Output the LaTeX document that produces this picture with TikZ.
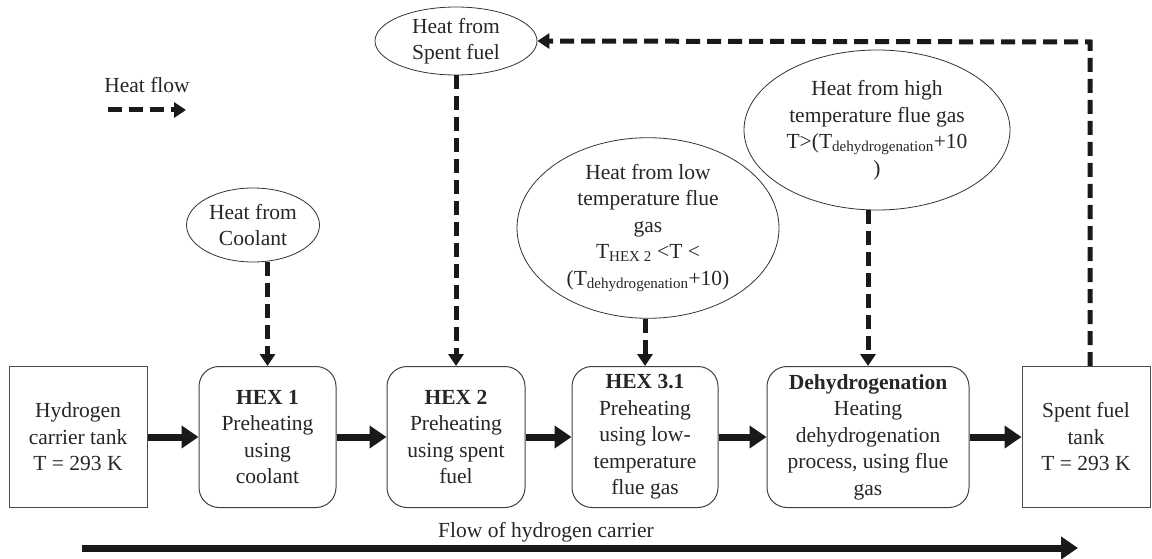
\documentclass[tikz,border=0pt]{standalone}
\usepackage{fontspec}
\setmainfont{Liberation Serif}
\usetikzlibrary{arrows.meta,shapes.geometric}
\begin{document}
\begin{tikzpicture}[x=1pt,y=-1pt,
  txt/.style={font=\fontsize{21.5}{26.5}\selectfont, align=center, text=black!85},
  sqbox/.style={txt, draw=black!70, line width=1pt, minimum width=#1, minimum height=141pt, inner sep=0pt},
  rbox/.style={txt, draw=black!75, line width=1pt, rounded corners=20pt, minimum width=#1, minimum height=141pt, inner sep=0pt},
  ell/.style={txt, ellipse, draw=black!80, line width=0.8pt, inner sep=0pt},
  flow/.style={line width=7pt, black!90, -{Triangle[length=17pt,width=22pt]}},
  heat/.style={line width=5pt, black!90, dash pattern=on 14pt off 7pt, -{Triangle[length=12pt,width=15pt]}},
]
\useasboundingbox (0,0) rectangle (1152,559);
% boxes
\node[sqbox=138pt] (tank) at (78,437) {Hydrogen\\carrier tank\\T = 293 K};
\node[rbox=137pt] (hex1) at (267.5,437) {\textbf{HEX 1}\\Preheating\\using\\coolant};
\node[rbox=138pt] (hex2) at (456,437) {\textbf{HEX 2}\\Preheating\\using spent\\fuel};
\node[rbox=146pt] (hex3) at (645,437) {\textbf{HEX 3.1}\\Preheating\\using low-\\temperature\\flue gas};
\node[rbox=202pt] (dehy) at (868,437) {\textbf{Dehydrogenation}\\Heating\\dehydrogenation\\process, using flue\\gas};
\node[sqbox=128pt] (sft) at (1086,437) {Spent fuel\\tank\\T = 293 K};
% ellipses
\node[ell, minimum width=133pt, minimum height=74pt] (ecool) at (253,225) {Heat from\\Coolant};
\node[ell, minimum width=162pt, minimum height=68pt] (espent) at (456,41) {Heat from\\Spent fuel};
\node[ell, minimum width=262pt, minimum height=160pt] (elow) at (648,228) {Heat from low\\temperature flue\\gas\\T\textsubscript{HEX 2} <T <\\(T\textsubscript{dehydrogenation}+10)};
\node[ell, minimum width=266pt, minimum height=160pt] (ehigh) at (877,130) {Heat from high\\temperature flue gas\\T>(T\textsubscript{dehydrogenation}+10\\)};
% flow arrows
\draw[flow] (tank) -- (hex1);
\draw[flow] (hex1) -- (hex2);
\draw[flow] (hex2) -- (hex3);
\draw[flow] (hex3) -- (dehy);
\draw[flow] (dehy) -- (sft);
% heat arrows
\draw[heat] (ecool.south -| hex1.north) -- (hex1.north);
\draw[heat] (espent.south) -- (hex2.north);
\draw[heat] (elow.south -| hex3.north) -- (hex3.north);
\draw[heat] (ehigh.south -| dehy.north) -- (dehy.north);
\coordinate (up) at (1090,42);
\draw[heat] (sft.north -| up) -- (up) -- (espent.east);
% legend
\node[txt] (hflab) at (147,85) {Heat flow};
\coordinate (hfa) at (108,110);
\coordinate (hfb) at (186,110);
\draw[heat] (hfa) -- (hfb);
% bottom flow
\coordinate (fa) at (82,548);
\coordinate (fb) at (1078,548);
\draw[flow] (fa) -- (fb);
\node[txt] (flab) at (546,532) {Flow of hydrogen carrier};
\end{tikzpicture}
\end{document}
